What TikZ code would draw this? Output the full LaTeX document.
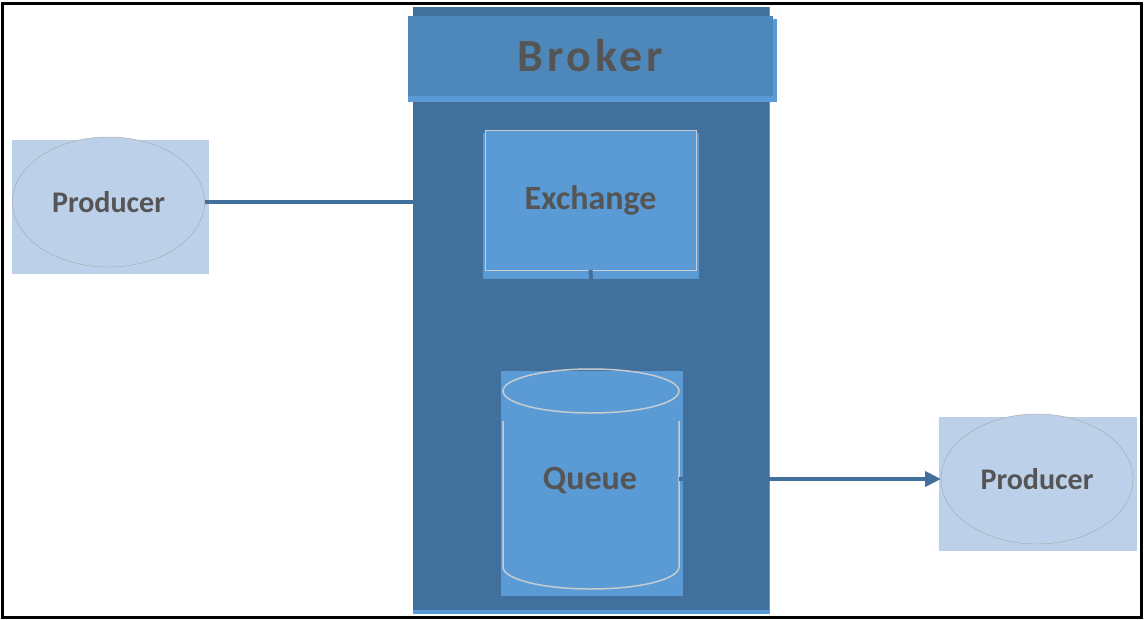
\documentclass[tikz,border=0pt]{standalone}
\usepackage{fontspec}
\setmainfont{Carlito}
\usetikzlibrary{positioning,arrows.meta,shapes.geometric}
\definecolor{brokerblue}{HTML}{41709C}
\definecolor{headblue}{HTML}{4E88BB}
\definecolor{lightblue}{HTML}{5B9BD5}
\definecolor{paleblue}{HTML}{BDD0E9}
\definecolor{labelgray}{HTML}{555555}
\definecolor{edgegray}{HTML}{C8CCD0}
\begin{document}
\begin{tikzpicture}[x=1pt, y=-1pt,
    every node/.style = {shape=rectangle, inner sep=0pt, outer sep=0pt,
      text=labelgray, font=\bfseries},
    producer/.style = {shape=ellipse, draw=gray!70, thin, fill=paleblue,
      minimum width=192pt, minimum height=130pt,
      font=\bfseries\fontsize{30}{36}\selectfont},
    link/.style = {draw=brokerblue, line width=4pt},
    cyl/.style = {draw=edgegray, line width=1.5pt}]
    \useasboundingbox (0,0) rectangle (1144,619);
    \draw[line width=3pt] (2.5,3.5) rectangle (1141,617);
    \node[fill=lightblue, minimum width=357pt, minimum height=607pt] (brokerbase) at (591.5,310.5) {};
    \node[fill=brokerblue, minimum width=356pt, minimum height=603pt] (broker) at (591,308.5) {};
    \node[fill=lightblue, minimum width=369pt, minimum height=83pt] (headshadow) at (592.5,60.5) {};
    \node[fill=headblue, minimum width=365pt, minimum height=80pt,
      font=\bfseries\fontsize{46}{52}\selectfont\addfontfeature{LetterSpace=8}] (head) at (590.5,56) {Broker};
    \node[fill=lightblue, minimum width=216pt, minimum height=146pt] (exshadow) at (591,206) {};
    \node[fill=lightblue, draw=edgegray, line width=1pt, minimum width=211pt, minimum height=140pt,
      font=\bfseries\fontsize{34}{40}\selectfont] (exchange) at (590.5,200) {Exchange};
    \node[fill=lightblue, minimum width=182pt, minimum height=225pt] (queuebox) at (592,483.5) {};
    \coordinate (cyltop) at (591,391);
    \draw[cyl] (cyltop) ellipse [x radius=88, y radius=22];
    \draw[cyl] (503,421) -- (503,567) arc [start angle=180, end angle=0, x radius=88, y radius=22] -- (679,421);
    \node[font=\bfseries\fontsize{34}{40}\selectfont] (queue) at (590,480) {Queue};
    \node[fill=paleblue, minimum width=197pt, minimum height=134pt] (prodbgA) at (110.5,207) {};
    \node[producer] (producerA) at (108.5,202) {Producer};
    \node[fill=paleblue, minimum width=198pt, minimum height=134pt] (prodbgB) at (1038,484) {};
    \node[producer] (producerB) at (1037,479) {Producer};
    \coordinate (qstub) at (679,479);
    \draw[link] (producerA.east) -- (broker.west |- producerA.east);
    \draw[link] (exchange.south) -- (exshadow.south);
    \draw[link] (qstub) -- (queuebox.east |- qstub);
    \draw[link, -{Triangle[length=16pt, width=15pt]}] (broker.east |- qstub) -- (producerB.west);
\end{tikzpicture}
\end{document}
